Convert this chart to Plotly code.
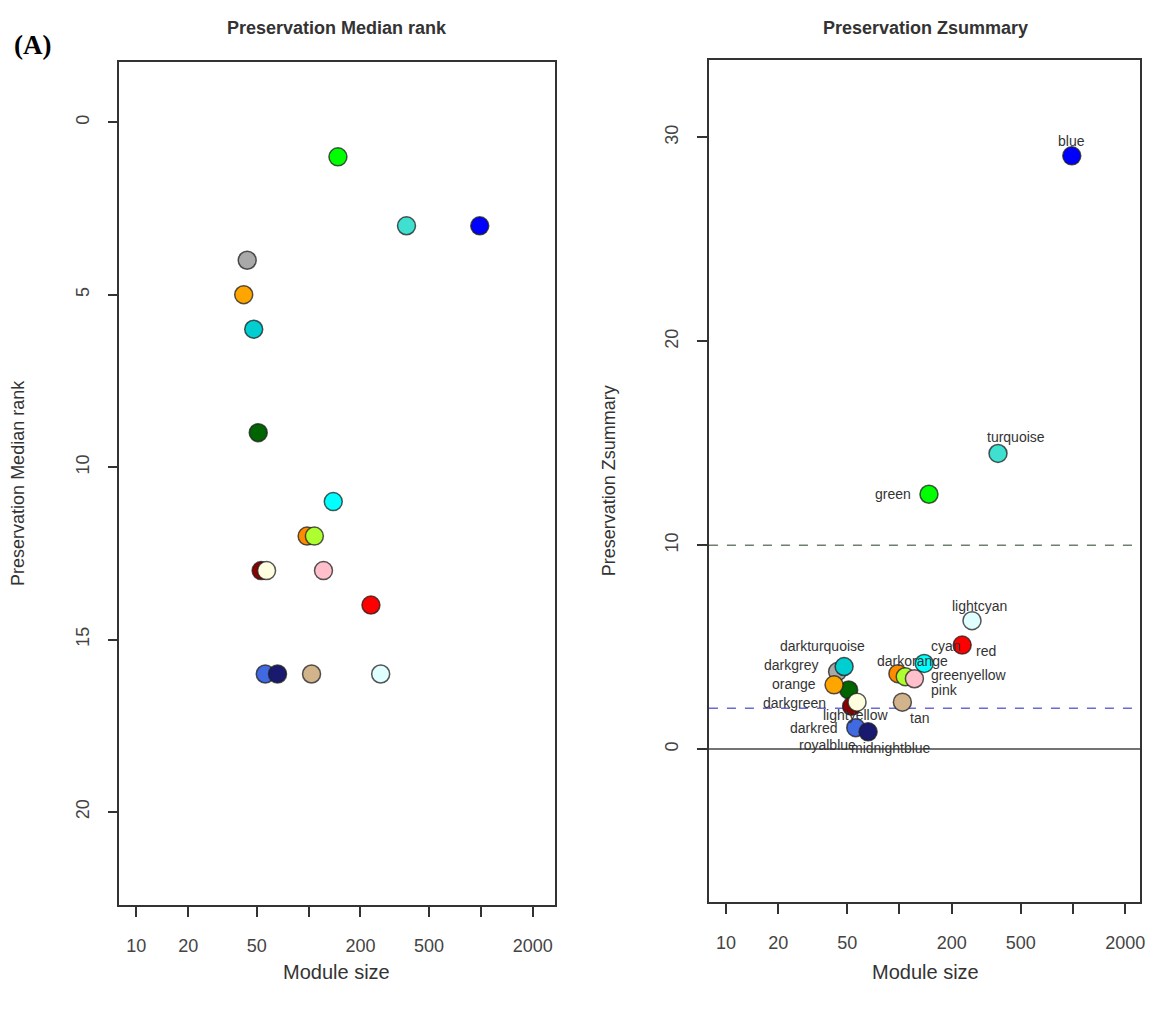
import numpy as np
import plotly.graph_objects as go

# ---------------- data ----------------
modules = ["blue", "turquoise", "green", "lightcyan", "red", "cyan", "darkgrey",
           "darkturquoise", "darkorange", "greenyellow", "pink", "darkgreen",
           "orange", "darkred", "lightyellow", "tan", "royalblue", "midnightblue"]
module_size = [985, 370, 148, 262, 230, 139, 44, 48, 98, 108, 122, 51, 42, 53, 57, 104, 56, 66]
median_rank = [3, 3, 1, 16, 14, 11, 4, 6, 12, 12, 13, 9, 5, 13, 13, 16, 16, 16]
zsummary = [29.1, 14.5, 12.5, 6.3, 5.1, 4.2, 3.8, 4.05, 3.7, 3.55, 3.45, 2.9, 3.15, 2.1, 2.3, 2.3, 1.05, 0.85]

x_tickvals = [10, 20, 50, 100, 200, 500, 1000, 2000]
x_ticktext = ["10", "20", "50", "", "200", "500", "", "2000"]
rank_ticks = [0, 5, 10, 15, 20]
z_ticks = [0, 10, 20, 30]
z_thresholds = [0, 2, 10]

# R colour definitions (style)
r_colors = {"green": "#00FF00"}
marker_colors = [r_colors.get(m, m) for m in modules]

# label offsets (screen px: dx right, dy down) for the Zsummary labels
label_offsets = {
    "blue": (0, -15), "turquoise": (18, -16), "green": (-36, 0), "lightcyan": (7, -15),
    "red": (24, 6), "cyan": (22, -17), "darkgrey": (-47, -7), "darkturquoise": (-22, -21),
    "darkorange": (15, -13), "greenyellow": (64, -2), "pink": (30, 11), "orange": (-40, -1),
    "darkgreen": (-54, 13), "darkred": (-38, 22), "lightyellow": (-2, 13), "tan": (17, 16),
    "royalblue": (-28, 17), "midnightblue": (23, 16),
}

W, H = 1160, 1009
FONT = "Liberation Sans, Arial, sans-serif"
AX = "#333333"
TICKC = "#444444"

def px(v):
    return v / W

def py(v):
    return 1 - v / H

fig = go.Figure()

marker = dict(size=18, color=marker_colors, line=dict(color="rgba(30,30,30,0.75)", width=1.5))

fig.add_trace(go.Scatter(x=module_size, y=median_rank, mode="markers", marker=marker,
                         xaxis="x", yaxis="y", showlegend=False, hoverinfo="text", text=modules))
fig.add_trace(go.Scatter(x=module_size, y=zsummary, mode="markers", marker=marker,
                         xaxis="x2", yaxis="y2", showlegend=False, hoverinfo="text", text=modules))

common_x = dict(type="log", tickvals=x_tickvals, ticktext=x_ticktext, showgrid=False,
                zeroline=False, showline=True, mirror=True, linecolor=AX, linewidth=1.5,
                ticks="outside", ticklen=10, tickwidth=1.5, tickcolor=AX,
                tickfont=dict(family=FONT, size=18, color=TICKC), ticklabelstandoff=14)
common_y = dict(showgrid=False, zeroline=False, showline=True, mirror=True, linecolor=AX,
                linewidth=1.5, ticks="outside", ticklen=10, tickwidth=1.5, tickcolor=AX,
                tickangle=-90, tickfont=dict(family=FONT, size=18, color=TICKC),
                ticklabelstandoff=12)

fig.update_layout(
    width=W, height=H, margin=dict(l=0, r=0, t=0, b=0),
    paper_bgcolor="white", plot_bgcolor="white",
    xaxis=dict(common_x, domain=[px(120), px(557)], range=[0.902, 3.428], anchor="y"),
    yaxis=dict(common_y, domain=[py(905), py(62)], range=[22.7, -1.75], tickvals=rank_ticks, anchor="x"),
    xaxis2=dict(common_x, domain=[px(712), px(1145)], range=[0.902, 3.387], anchor="y2"),
    yaxis2=dict(common_y, domain=[py(902), py(60)], range=[-7.5, 33.8], tickvals=z_ticks, anchor="x2"),
)

# threshold lines
line_styles = {0: dict(color="#444444", width=1.5, dash="solid"),
               2: dict(color="#6a6ad6", width=1.5, dash="dash"),
               10: dict(color="#6f7f6f", width=1.5, dash="dash")}
for t in z_thresholds:
    fig.add_shape(type="line", xref="x2 domain", yref="y2", x0=0, x1=1, y0=t, y1=t,
                  line=line_styles[t], layer="below")

# point labels
for m, s, z in zip(modules, module_size, zsummary):
    dx, dy = label_offsets[m]
    fig.add_annotation(x=np.log10(s), y=z, xref="x2", yref="y2", text=m, showarrow=False,
                       xshift=dx, yshift=-dy, font=dict(family=FONT, size=14, color="#333333"))

# titles
annos = [
    dict(x=px(338), y=py(28), text="<b>Preservation Median rank</b>", size=18),
    dict(x=px(930), y=py(28), text="<b>Preservation Zsummary</b>", size=18),
    dict(x=px(338), y=py(972), text="Module size", size=20),
    dict(x=px(930), y=py(972), text="Module size", size=20),
]
for a in annos:
    fig.add_annotation(x=a["x"], y=a["y"], xref="paper", yref="paper", text=a["text"],
                       showarrow=False, xanchor="center", yanchor="middle",
                       font=dict(family=FONT, size=a["size"], color="#333333"))
for xx, yy, txt in [(18, 483, "Preservation Median rank"), (612, 481, "Preservation Zsummary")]:
    fig.add_annotation(x=px(xx), y=py(yy), xref="paper", yref="paper", text=txt, textangle=-90,
                       showarrow=False, xanchor="center", yanchor="middle",
                       font=dict(family=FONT, size=18, color="#333333"))
fig.add_annotation(x=px(12), y=py(45), xref="paper", yref="paper", text="<b>(A)</b>",
                   showarrow=False, xanchor="left", yanchor="middle",
                   font=dict(family="Liberation Serif, Times New Roman, serif", size=27, color="black"))

fig.write_html("out.html")
